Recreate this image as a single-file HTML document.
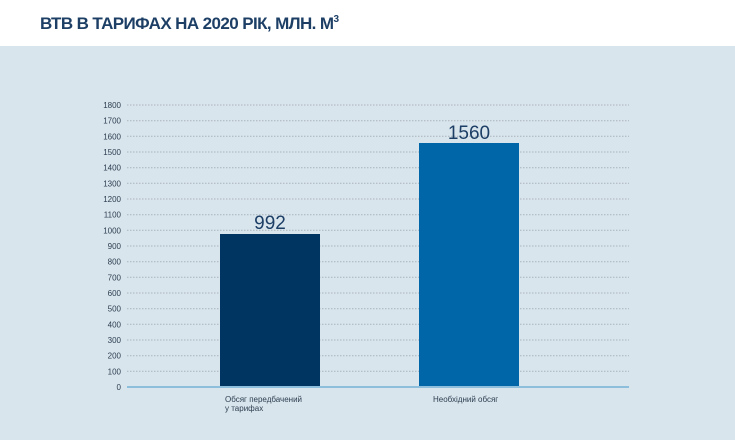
<!DOCTYPE html>
<html><head><meta charset="utf-8"><style>
body{margin:0;width:735px;height:440px;background:#fff;overflow:hidden;font-family:"Liberation Sans",sans-serif;}
</style></head><body>
<svg width="735" height="440" xmlns="http://www.w3.org/2000/svg" font-family="Liberation Sans, sans-serif">
<text x="40" y="29" font-size="17" font-weight="bold" fill="#1d3f66" letter-spacing="-0.6">ВТВ В ТАРИФАХ НА 2020 РІК, МЛН. М<tspan font-size="10" dy="-7">3</tspan></text>
<rect x="0" y="46" width="735" height="394" fill="#d9e5ed"/>
<g stroke="#a9b3ba" stroke-width="1" stroke-dasharray="1.5,1.5">
<line x1="127" x2="629" y1="105" y2="105"/><line x1="127" x2="629" y1="120.7" y2="120.7"/><line x1="127" x2="629" y1="136.3" y2="136.3"/><line x1="127" x2="629" y1="152" y2="152"/><line x1="127" x2="629" y1="167.7" y2="167.7"/><line x1="127" x2="629" y1="183.3" y2="183.3"/><line x1="127" x2="629" y1="199" y2="199"/><line x1="127" x2="629" y1="214.7" y2="214.7"/><line x1="127" x2="629" y1="230.3" y2="230.3"/><line x1="127" x2="629" y1="246" y2="246"/><line x1="127" x2="629" y1="261.7" y2="261.7"/><line x1="127" x2="629" y1="277.3" y2="277.3"/><line x1="127" x2="629" y1="293" y2="293"/><line x1="127" x2="629" y1="308.7" y2="308.7"/><line x1="127" x2="629" y1="324.3" y2="324.3"/><line x1="127" x2="629" y1="340" y2="340"/><line x1="127" x2="629" y1="355.7" y2="355.7"/><line x1="127" x2="629" y1="371.3" y2="371.3"/>
</g>
<g font-size="8" fill="#2c3e50" text-anchor="end">
<text x="121" y="108">1800</text><text x="121" y="123.7">1700</text><text x="121" y="139.3">1600</text><text x="121" y="155">1500</text><text x="121" y="170.7">1400</text><text x="121" y="186.3">1300</text><text x="121" y="202">1200</text><text x="121" y="217.7">1100</text><text x="121" y="233.3">1000</text><text x="121" y="249">900</text><text x="121" y="264.7">800</text><text x="121" y="280.3">700</text><text x="121" y="296">600</text><text x="121" y="311.7">500</text><text x="121" y="327.3">400</text><text x="121" y="343">300</text><text x="121" y="358.7">200</text><text x="121" y="374.3">100</text><text x="121" y="390">0</text>
</g>
<rect x="220" y="234" width="100" height="153" fill="#003561"/>
<rect x="419" y="143" width="100" height="244" fill="#0066a8"/>
<line x1="127" x2="629" y1="387" y2="387" stroke="#8dbfdc" stroke-width="2"/>
<text x="270" y="229" font-size="19" fill="#1d3f66" text-anchor="middle">992</text>
<text x="469" y="139" font-size="19" fill="#1d3f66" text-anchor="middle">1560</text>
<g font-size="8" fill="#2c3e50">
<text x="225" y="402">Обсяг передбачений</text>
<text x="225" y="411">у тарифах</text>
<text x="433" y="402">Необхідний обсяг</text>
</g>
</svg>
</body></html>
